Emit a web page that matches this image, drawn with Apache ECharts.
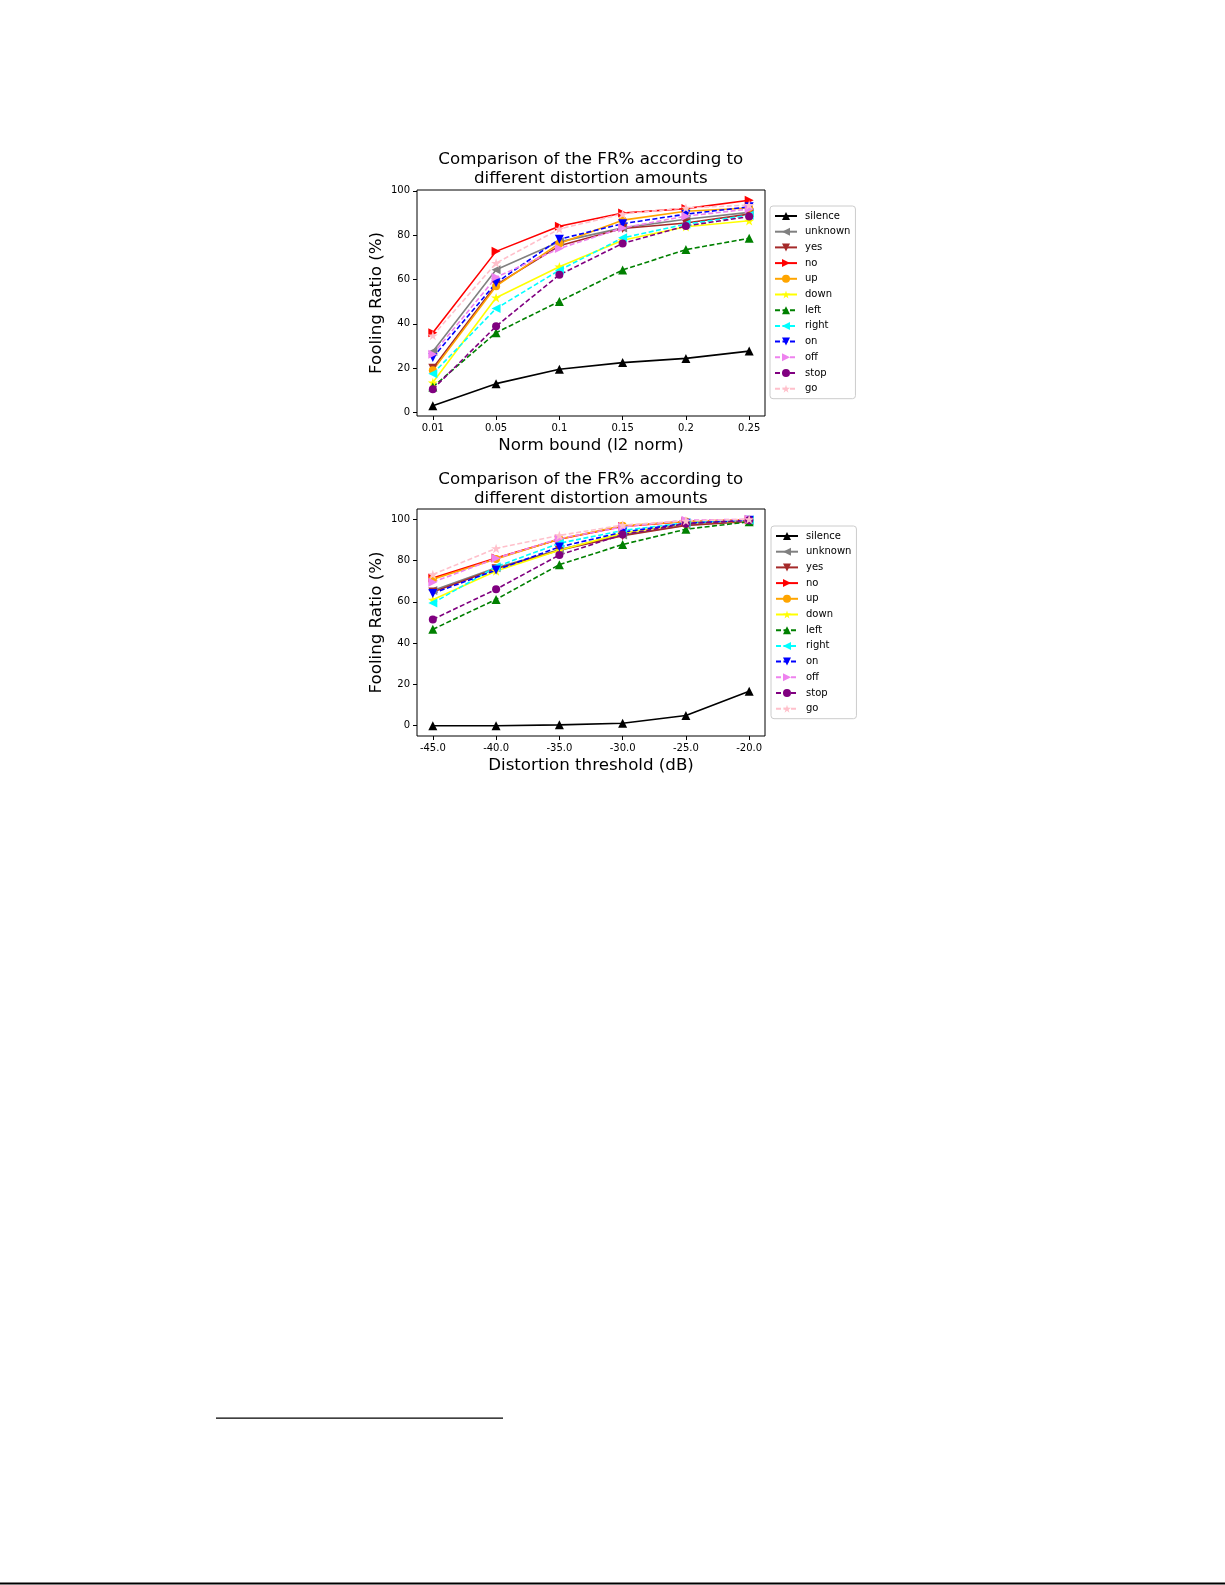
<!DOCTYPE html>
<html>
<head>
<meta charset="utf-8">
<script src="https://cdn.jsdelivr.net/npm/echarts@6/dist/echarts.min.js"></script>
<style>
html,body{margin:0;padding:0;background:#fff;}
#main{width:1225px;height:1585px;}
</style>
</head>
<body>
<div id="main"></div>
<script>
// ---- data ----
const xLabels1 = ['0.01', '0.05', '0.1', '0.15', '0.2', '0.25'];
const xLabels2 = ['-45.0', '-40.0', '-35.0', '-30.0', '-25.0', '-20.0'];
const yTicks = [0, 20, 40, 60, 80, 100];
const seriesNames = ['silence', 'unknown', 'yes', 'no', 'up', 'down', 'left', 'right', 'on', 'off', 'stop', 'go'];

// chart 1: Norm bound (l2 norm)
const silence1 = [3, 13, 19.5, 22.5, 24.4, 27.7];
const unknown1 = [27.5, 64.4, 77, 83.3, 87.2, 90.3];
const yes1 = [20, 57.6, 75.2, 83, 85.5, 89.5];
const no1 = [36, 72.7, 84, 90, 92, 95.8];
const up1 = [19, 57, 76.3, 86.8, 90.8, 92.3];
const down1 = [13.5, 51.8, 65.8, 77.7, 83.8, 86.5];
const left1 = [11.5, 36, 50.1, 64.3, 73.5, 78.6];
const right1 = [17.5, 46.9, 64.2, 78.8, 85, 89];
const on1 = [24.8, 58.5, 78.2, 85.2, 89.5, 92.8];
const off1 = [26.3, 61, 74, 83.3, 88.6, 91.8];
const stop1 = [10.5, 38.9, 62.1, 76.3, 84.2, 88.4];
const go1 = [34.7, 67.4, 82.8, 89.6, 92.3, 93.6];

// chart 2: Distortion threshold (dB)
const silence2 = [0, 0, 0.4, 1.2, 4.9, 16.7];
const unknown2 = [65.5, 76.5, 85.3, 92.4, 97.2, 99.3];
const yes2 = [64.8, 76, 85, 92, 97, 99];
const no2 = [71.6, 81.2, 90.3, 96.5, 99, 99.8];
const up2 = [71, 80.8, 90.5, 96.9, 99, 99.8];
const down2 = [61, 75, 85, 93.3, 98, 99.3];
const left2 = [46.7, 61.2, 78, 87.8, 95.2, 98.8];
const right2 = [59.4, 77, 88.4, 94.6, 98.3, 99.7];
const on2 = [64.1, 75.4, 86.6, 93.8, 98.1, 99.5];
const off2 = [69.5, 81.1, 90.7, 96.3, 99.6, 100];
const stop2 = [51.5, 66.1, 82.7, 92.6, 97.9, 99.5];
const go2 = [73.3, 85.9, 92.2, 97.2, 99.3, 100];

const data1 = [silence1, unknown1, yes1, no1, up1, down1, left1, right1, on1, off1, stop1, go1];
const data2 = [silence2, unknown2, yes2, no2, up2, down2, left2, right2, on2, off2, stop2, go2];

// ---- styles ----
const FONT = 'DejaVu Sans';
const STAR = 'path://M50,0 L61.2,34.5 L97.6,34.5 L68.2,55.9 L79.4,90.5 L50,69.1 L20.6,90.5 L31.8,55.9 L2.4,34.5 L38.8,34.5 Z';
const styles = [
  {color: '#000000', dash: 'solid', symbol: 'triangle', rot: 0},
  {color: '#808080', dash: 'solid', symbol: 'triangle', rot: 90},
  {color: '#a52a2a', dash: 'solid', symbol: 'triangle', rot: 180},
  {color: '#ff0000', dash: 'solid', symbol: 'triangle', rot: -90},
  {color: '#ffa500', dash: 'solid', symbol: 'circle', rot: 0},
  {color: '#ffff00', dash: 'solid', symbol: STAR, rot: 0},
  {color: '#008000', dash: [5, 2.5], symbol: 'triangle', rot: 0},
  {color: '#00ffff', dash: [5, 2.5], symbol: 'triangle', rot: 90},
  {color: '#0000ff', dash: [5, 2.5], symbol: 'triangle', rot: 180},
  {color: '#ee82ee', dash: [5, 2.5], symbol: 'triangle', rot: -90},
  {color: '#800080', dash: [5, 2.5], symbol: 'circle', rot: 0},
  {color: '#ffc0cb', dash: [5, 2.5], symbol: STAR, rot: 0}
];

function makeSeries(dataArr, gridIdx) {
  return dataArr.map((vals, k) => {
    const st = styles[k];
    return {
      name: seriesNames[k],
      type: 'line',
      xAxisIndex: gridIdx,
      yAxisIndex: gridIdx,
      data: vals.map((v, i) => [i, v]),
      symbol: st.symbol,
      symbolRotate: st.rot,
      symbolKeepAspect: true,
      symbolSize: st.symbol === 'circle' ? 8 : (st.symbol === STAR ? 10 : 9),
      showSymbol: true,
      animation: false,
      color: st.color,
      itemStyle: {color: st.color, borderWidth: 0},
      lineStyle: {color: st.color, width: 1.6, type: st.dash},
      emphasis: {disabled: true}
    };
  });
}

function xAxis(gridIdx, labels, name) {
  return {
    type: 'value', gridIndex: gridIdx, min: -0.25, max: 5.25,
    name: name, nameLocation: 'middle', nameGap: 21,
    nameTextStyle: {fontFamily: FONT, fontSize: 16.67, color: '#000'},
    axisLine: {show: false, onZero: false},
    axisTick: {show: true, length: 4, customValues: [0, 1, 2, 3, 4, 5], lineStyle: {color: '#000', width: 1}},
    axisLabel: {customValues: [0, 1, 2, 3, 4, 5], formatter: v => labels[Math.round(v)],
      fontFamily: FONT, fontSize: 10, color: '#000', margin: 7},
    splitLine: {show: false}
  };
}
function yAxis(gridIdx, min, max) {
  return {
    type: 'value', gridIndex: gridIdx, min: min, max: max,
    name: 'Fooling Ratio (%)', nameLocation: 'middle', nameGap: 32,
    nameTextStyle: {fontFamily: FONT, fontSize: 16.67, color: '#000'},
    axisLine: {show: false, onZero: false},
    axisTick: {show: true, length: 4, customValues: yTicks, lineStyle: {color: '#000', width: 1}},
    axisLabel: {customValues: yTicks, fontFamily: FONT, fontSize: 10, color: '#000', margin: 7},
    splitLine: {show: false}
  };
}
function legend(left, top) {
  return {
    orient: 'vertical', left: left, top: top,
    data: seriesNames,
    padding: [4, 5, 4, 4],
    itemWidth: 22, itemHeight: 10, itemGap: 3.7,
    borderColor: '#cccccc', borderWidth: 1, borderRadius: 3,
    backgroundColor: '#ffffff',
    selectedMode: false,
    textStyle: {fontFamily: FONT, fontSize: 10, color: '#000', lineHeight: 12, padding: [0, 0, 0, 3]}
  };
}

const titleText = 'Comparison of the FR% according to\ndifferent distortion amounts';
const option = {
  backgroundColor: '#ffffff',
  animation: false,
  title: [
    {text: titleText, left: 585.8, top: 145, textAlign: 'center',
      textStyle: {fontFamily: FONT, fontSize: 16.67, fontWeight: 'normal', color: '#000', lineHeight: 19}},
    {text: titleText, left: 585.8, top: 465, textAlign: 'center',
      textStyle: {fontFamily: FONT, fontSize: 16.67, fontWeight: 'normal', color: '#000', lineHeight: 19}}
  ],
  grid: [
    {left: 417, top: 190, width: 348, height: 226, show: true, borderColor: '#000', borderWidth: 1, backgroundColor: 'transparent'},
    {left: 417, top: 509, width: 348, height: 227, show: true, borderColor: '#000', borderWidth: 1, backgroundColor: 'transparent'}
  ],
  xAxis: [xAxis(0, xLabels1, 'Norm bound (l2 norm)'), xAxis(1, xLabels2, 'Distortion threshold (dB)')],
  yAxis: [yAxis(0, -1.6, 100.4), yAxis(1, -5, 105)],
  legend: [legend(770, 206), legend(771, 526)],
  series: makeSeries(data1, 0).concat(makeSeries(data2, 1)),
  graphic: [
    {type: 'rect', shape: {x: 216, y: 1417.5, width: 287, height: 1.3}, style: {fill: '#000'}},
    {type: 'rect', shape: {x: 0, y: 1582.5, width: 1225, height: 2}, style: {fill: '#000'}}
  ]
};

const chart = echarts.init(document.getElementById('main'), null, {renderer: 'canvas'});
chart.setOption(option);
</script>
</body>
</html>
